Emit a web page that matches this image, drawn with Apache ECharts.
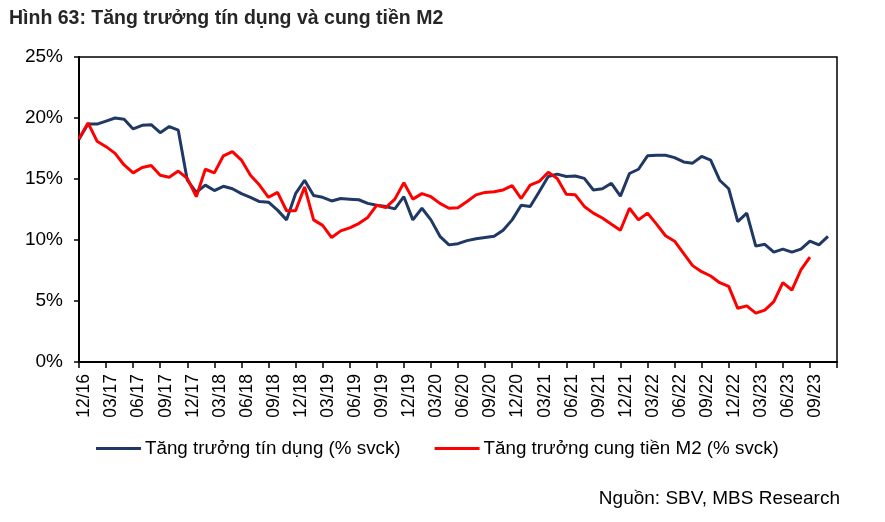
<!DOCTYPE html>
<html>
<head>
<meta charset="utf-8">
<script src="https://cdn.jsdelivr.net/npm/echarts@6/dist/echarts.min.js"></script>
<style>
html,body{margin:0;padding:0;background:#fff;}
#chart{width:885px;height:522px;}
</style>
</head>
<body>
<div id="chart"></div>
<script>
// Monthly categories 12/16 .. 12/23
var categories = [
 '12/16','01/17','02/17','03/17','04/17','05/17','06/17','07/17','08/17','09/17','10/17','11/17',
 '12/17','01/18','02/18','03/18','04/18','05/18','06/18','07/18','08/18','09/18','10/18','11/18',
 '12/18','01/19','02/19','03/19','04/19','05/19','06/19','07/19','08/19','09/19','10/19','11/19',
 '12/19','01/20','02/20','03/20','04/20','05/20','06/20','07/20','08/20','09/20','10/20','11/20',
 '12/20','01/21','02/21','03/21','04/21','05/21','06/21','07/21','08/21','09/21','10/21','11/21',
 '12/21','01/22','02/22','03/22','04/22','05/22','06/22','07/22','08/22','09/22','10/22','11/22',
 '12/22','01/23','02/23','03/23','04/23','05/23','06/23','07/23','08/23','09/23','10/23','11/23',
 '12/23'
];
// Tăng trưởng tín dụng (% svck)
var creditGrowth = [
 18.25,19.5,19.5,19.75,20.0,19.9,19.1,19.4,19.45,18.8,19.3,19.0,
 14.9,13.9,14.5,14.05,14.4,14.2,13.8,13.5,13.15,13.1,12.45,11.65,
 13.8,14.9,13.65,13.5,13.2,13.4,13.35,13.3,13.0,12.85,12.75,12.55,
 13.55,11.65,12.6,11.65,10.3,9.6,9.7,9.95,10.1,10.2,10.3,10.8,
 11.65,12.85,12.75,13.95,15.2,15.4,15.2,15.25,15.05,14.1,14.2,14.65,
 13.6,15.45,15.8,16.9,16.95,16.95,16.75,16.4,16.3,16.85,16.55,14.9,
 14.2,11.5,12.2,9.5,9.65,9.0,9.25,9.0,9.25,9.9,9.6,10.3
];
// Tăng trưởng cung tiền M2 (% svck)
var m2Growth = [
 18.3,19.6,18.1,17.65,17.1,16.15,15.5,15.95,16.1,15.3,15.15,15.65,
 15.05,13.55,15.8,15.5,16.9,17.25,16.55,15.3,14.5,13.5,13.9,12.4,
 12.4,14.35,11.65,11.2,10.2,10.75,11.0,11.35,11.85,12.85,12.65,13.35,
 14.7,13.35,13.8,13.55,13.0,12.6,12.65,13.15,13.7,13.9,13.95,14.1,
 14.45,13.4,14.5,14.8,15.55,15.05,13.75,13.7,12.75,12.2,11.8,11.3,
 10.8,12.6,11.65,12.2,11.3,10.35,9.9,8.9,7.9,7.4,7.05,6.5,
 6.2,4.4,4.6,4.0,4.25,4.95,6.5,5.9,7.55,8.6
];
var yTicks = [0,5,10,15,20,25];

var FONT = "'Liberation Sans', Arial, sans-serif";
var chart = echarts.init(document.getElementById('chart'));
chart.setOption({
  backgroundColor:'#fff',
  animation:false,
  textStyle:{fontFamily:FONT},
  title:{
    text:'Hình 63: Tăng trưởng tín dụng và cung tiền M2',
    left:4, top:4,
    textStyle:{fontFamily:FONT,fontSize:19.5,fontWeight:'bold',color:'#262626'}
  },
  graphic:[{
    type:'text', right:45, top:489,
    style:{text:'Nguồn: SBV, MBS Research', fontFamily:FONT, fontSize:19, fill:'#000'}
  }],
  legend:{
    left:96, top:439, padding:0,
    itemWidth:45, itemHeight:3, itemGap:34,
    icon:'rect',
    textStyle:{fontFamily:FONT,fontSize:18.8,color:'#000',padding:[0,0,0,-1]},
    data:['Tăng trưởng tín dụng (% svck)','Tăng trưởng cung tiền M2 (% svck)']
  },
  grid:{
    left:79, right:48, top:57, bottom:160,
    show:true, borderColor:'#000', borderWidth:1.5, backgroundColor:'transparent'
  },
  xAxis:{
    type:'category', data:categories, boundaryGap:false,
    axisLine:{lineStyle:{color:'#000',width:2}},
    axisTick:{show:true,length:6,inside:false,lineStyle:{color:'#000',width:1.5},
      interval:function(i){return i%3===0;}},
    axisLabel:{rotate:90, fontFamily:FONT, fontSize:17.5, color:'#000', margin:12,
      verticalAlign:'top', lineHeight:11,
      interval:function(i){return i%3===0 && i<categories.length-1;}},
    splitLine:{show:false}
  },
  yAxis:{
    type:'value', min:yTicks[0], max:yTicks[yTicks.length-1], interval:5,
    axisLine:{show:true,lineStyle:{color:'#000',width:2}},
    axisTick:{show:true,length:5,inside:false,lineStyle:{color:'#000',width:1.5}},
    axisLabel:{formatter:'{value}%', fontFamily:FONT, fontSize:19, color:'#000', margin:16},
    splitLine:{show:false}
  },
  series:[
    {name:'Tăng trưởng tín dụng (% svck)', type:'line', data:creditGrowth,
     symbol:'none', color:'#1F3864', lineStyle:{width:3,color:'#1F3864'}},
    {name:'Tăng trưởng cung tiền M2 (% svck)', type:'line', data:m2Growth,
     symbol:'none', color:'#FF0000', lineStyle:{width:3,color:'#FF0000'}}
  ]
});
</script>
</body>
</html>
